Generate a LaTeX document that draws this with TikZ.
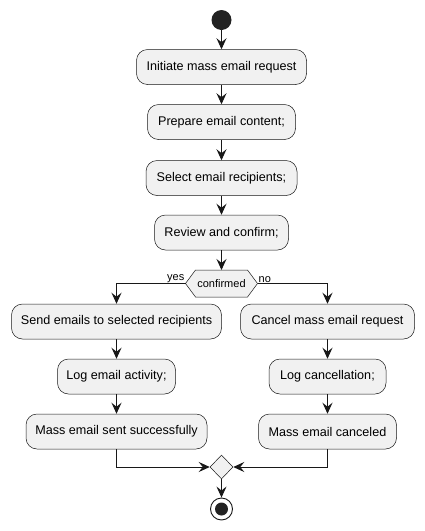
\documentclass[tikz,border=0pt]{standalone}
\usepackage{fontspec}
\setmainfont{Liberation Sans}
\usetikzlibrary{arrows.meta,shapes.geometric}
\definecolor{line}{HTML}{181818}
\definecolor{boxfill}{HTML}{F1F1F1}
\definecolor{dotfill}{HTML}{222222}
\begin{document}
\begin{tikzpicture}[x=1pt,y=-1pt,
  act/.style={draw=line,fill=boxfill,rounded corners=11pt,minimum height=35pt,line width=0.5pt,inner xsep=0pt,font=\fontsize{12.6}{15}\selectfont},
  arr/.style={draw=line,line width=0.9pt,-{Stealth[length=11pt,width=10pt,inset=4pt]}},
  lbl/.style={font=\fontsize{11}{13}\selectfont,inner sep=1pt}]
  \useasboundingbox (0,0) rectangle (424,531);
  \node (start) at (221.5,20)[circle,fill=dotfill,minimum size=20pt,inner sep=0pt]{};
  \node (init) at (221.5,67)[act,minimum width=170pt]{Initiate mass email request};
  \node (prep) at (221.5,122)[act,minimum width=148pt]{Prepare email content;};
  \node (sel) at (221.5,178)[act,minimum width=151pt]{Select email recipients;};
  \node (rev) at (221.5,232.5)[act,minimum width=134pt]{Review and confirm;};
  \coordinate (confN) at (221.5,270);
  \coordinate (confW) at (185.5,283.5);
  \coordinate (confE) at (257.5,283.5);
  \draw[draw=line,fill=boxfill,line width=0.5pt] (confW) -- (195.5,270) -- (247.5,270) -- (confE) -- (247.5,297) -- (195.5,297) -- cycle;
  \node (conf) at (221.5,283.5)[lbl]{confirmed};
  \node (yes) at (confW)[lbl,anchor=south east]{yes};
  \node (no) at (confE)[lbl,anchor=south west]{no};
  \node (send) at (116.5,321.5)[act,minimum width=210pt]{Send emails to selected recipients};
  \node (logact) at (116.5,376.5)[act,minimum width=118pt]{Log email activity;};
  \node (sent) at (116.5,431.5)[act,minimum width=181pt]{Mass email sent successfully};
  \node (cancel) at (327.5,321.5)[act,minimum width=174pt]{Cancel mass email request};
  \node (logcan) at (327.5,376.5)[act,minimum width=117pt]{Log cancellation;};
  \node (canceled) at (327.5,431.5)[act,minimum width=138pt]{Mass email canceled};
  \node (merge) at (221.5,467)[diamond,draw=line,fill=boxfill,line width=0.5pt,minimum width=23pt,minimum height=24pt,inner sep=0pt]{};
  \node (stop) at (221.5,509)[circle,draw=line,fill=white,line width=0.9pt,minimum size=22pt,inner sep=0pt]{};
  \node (stopdot) at (221.5,509)[circle,fill=dotfill,minimum size=13pt,inner sep=0pt]{};
  \draw[arr] (start) -- (init);
  \draw[arr] (init) -- (prep);
  \draw[arr] (prep) -- (sel);
  \draw[arr] (sel) -- (rev);
  \draw[arr] (rev) -- (confN);
  \draw[arr] (confW) -| (send);
  \draw[arr] (confE) -| (cancel);
  \draw[arr] (send) -- (logact);
  \draw[arr] (logact) -- (sent);
  \draw[arr] (cancel) -- (logcan);
  \draw[arr] (logcan) -- (canceled);
  \draw[arr] (sent) |- (merge);
  \draw[arr] (canceled) |- (merge);
  \draw[arr] (merge) -- (stop);
\end{tikzpicture}
\end{document}
